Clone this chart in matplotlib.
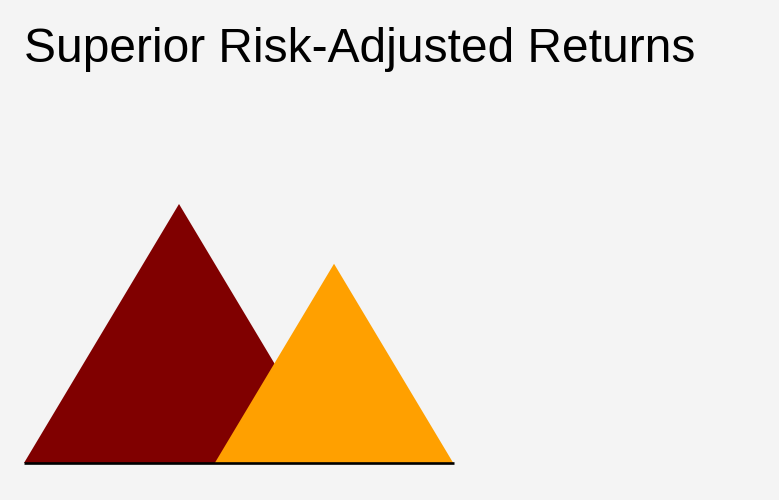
import matplotlib.pyplot as plt
from matplotlib.patches import Polygon

# Risk-adjusted return per strategy (peak height); the peak's width scales with it
categories = ['Strategy', 'Benchmark']
values = [1.30, 1.00]
colors = ['#800000', '#ffa000']
positions = [1.0, 2.0]

W, H = 779, 500
fig = plt.figure(figsize=(W / 100, H / 100), dpi=100, facecolor='#f4f4f4')

# axes box in pixels: left 24, right 454, baseline at y=463
left, right, base, top = 24, 454, 463, 100
ax = fig.add_axes([left / W, (H - base) / H, (right - left) / W, (base - top) / H])
ax.set_facecolor('none')

vmax = max(values)
px_per_unit = 259 / vmax            # tallest peak is 259 px high
ax.set_ylim(0, (base - top) / px_per_unit)
ax.set_xlim(0, 2.774)

for cat, v, c, x in zip(categories, values, colors, positions):
    half = v / vmax
    tri = Polygon([(x - half, 0), (x, v), (x + half, 0)], closed=True,
                  facecolor=c, edgecolor='none', label=cat)
    ax.add_patch(tri)

ax.plot([0, 2.774], [0, 0], color='black', lw=1.9, solid_capstyle='butt',
        clip_on=False, zorder=5)
ax.axis('off')

fig.text(24 / W, 1 - 49 / H, 'Superior Risk-Adjusted Returns',
         fontfamily='Liberation Sans', fontsize=34.5, va='center', ha='left')

fig.savefig('out.png', dpi=100, facecolor=fig.get_facecolor())
